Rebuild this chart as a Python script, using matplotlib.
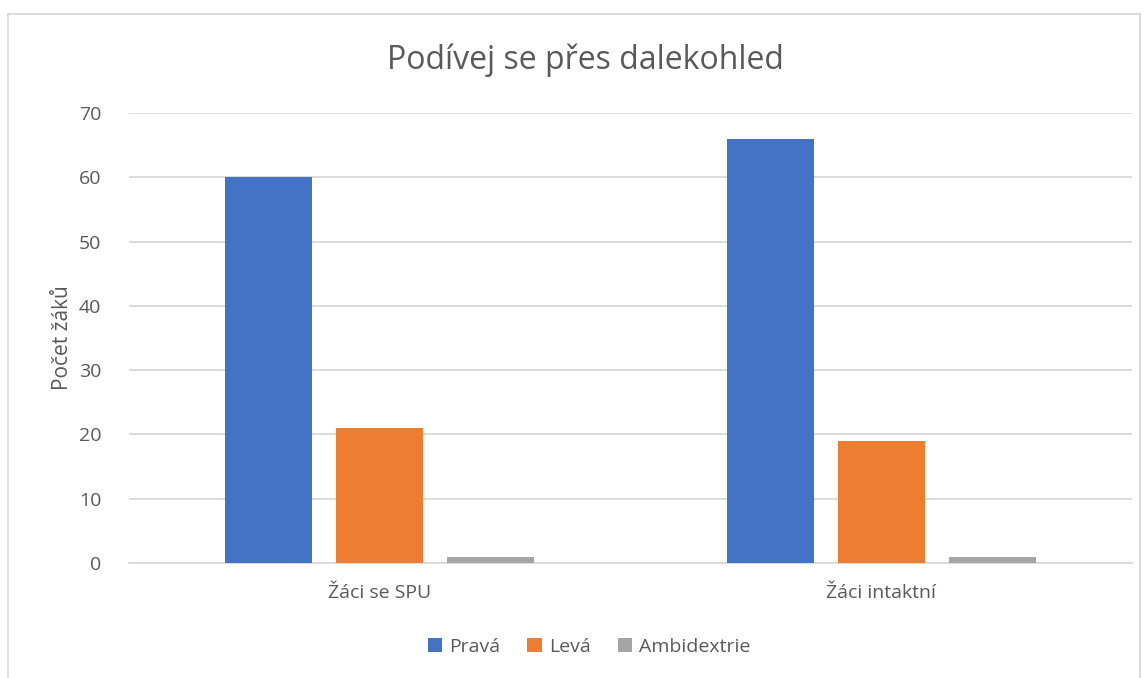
import numpy as np
import matplotlib.pyplot as plt
import matplotlib

matplotlib.rc("font", family=['Open Sans', 'DejaVu Sans'])

# data
skupiny = ['Žáci se SPU', 'Žáci intaktní']
serie = ['Pravá', 'Levá', 'Ambidextrie']
prava = [60, 66]
leva = [21, 19]
ambi = [1, 1]
barvy = ['#4472C4', '#ED7D31', '#A5A5A5']
text_col = '#595959'

W, H = 1147, 678
fig = plt.figure(figsize=(W / 100, H / 100), dpi=100)
ax = fig.add_axes([129 / W, 1 - 563 / H, (1132 - 129) / W, (563 - 113) / H])

x = np.arange(len(skupiny))
sirka = 87 / 501.5
krok = 111 / 501.5
for i, (hodnoty, nazev) in enumerate(zip([prava, leva, ambi], serie)):
    ax.bar(x + (i - 1) * krok, hodnoty, width=sirka, color=barvy[i], label=nazev, zorder=3)

ax.set_xlim(-0.5, 1.5)
ax.set_ylim(0, 70)
ax.set_yticks(range(0, 71, 10))
ax.set_xticks(x)
ax.set_xticklabels(skupiny)
ax.grid(axis='y', color='#d9d9d9', linewidth=1.3, zorder=0)
for s in ['top', 'right', 'left']:
    ax.spines[s].set_visible(False)
ax.spines['bottom'].set_color('#d9d9d9')
ax.spines['bottom'].set_linewidth(1.3)
ax.tick_params(axis='both', length=0, labelsize=14, colors=text_col)
ax.tick_params(axis='y', pad=20)
ax.tick_params(axis='x', pad=15)
ax.set_ylabel('Počet žáků', fontsize=15, color=text_col, labelpad=4)

fig.text(585 / W, 1 - 60 / H, 'Podívej se přes dalekohled', ha='center', va='center',
         fontsize=23, color=text_col)

leg = fig.legend(loc='center', bbox_to_anchor=(589 / W, 1 - 647 / H), ncol=3, frameon=False,
                 fontsize=14, handlelength=0.75, handleheight=0.75, columnspacing=1.4,
                 handletextpad=0.35)
for t in leg.get_texts():
    t.set_color(text_col)

# rámeček grafu
fig.patches.append(plt.Rectangle((8 / W, -0.05), (1140 - 8) / W, 1.05 - 14 / H,
                                 transform=fig.transFigure, fill=False,
                                 edgecolor='#d9d9d9', linewidth=1.3))

fig.savefig('out.png', dpi=100)
